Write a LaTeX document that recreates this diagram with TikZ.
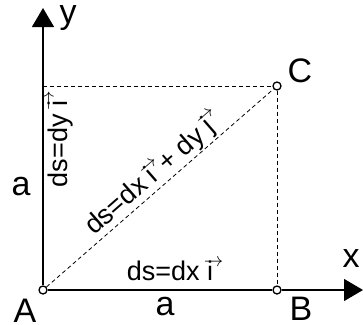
\documentclass[tikz,border=0pt]{standalone}
\usepackage{fontspec}
\setmainfont{Liberation Sans}
\usetikzlibrary{arrows.meta,positioning}
\newcommand{\uvec}[1]{\makebox[0pt][l]{\hspace{-0.12em}\raisebox{0.5em}{\resizebox{0.72em}{!}{$\rightarrow$}}}#1\hspace{0.38em}}

\begin{document}
\begin{tikzpicture}[
    x=1pt, y=-1pt,
    point/.style={circle, draw, fill=white, line width=1.3pt, inner sep=0pt, minimum size=8pt},
    axis/.style={line width=1.2pt, -{Triangle[length=19pt,width=22pt]}},
    guide/.style={line width=0.8pt, dash pattern=on 4pt off 3pt},
    letter/.style={font=\fontsize{34}{34}\selectfont, inner sep=0pt},
    formula/.style={font=\fontsize{27}{27}\selectfont, inner sep=0pt}
]
\useasboundingbox (0,0) rectangle (363,324);

% Points
\node[point] (A) at (43,290) {};
\node[point] (B) at (277,290) {};
\node[point] (C) at (277,86) {};
\coordinate (ytop) at (43,8);
\coordinate (xend) at (363,290);
\coordinate (D) at (A |- C);

% Axes
\draw[axis] (A) -- (ytop);
\draw[axis] (A) -- (B) -- (xend);

% Square sides and diagonal
\draw[guide] (D) -- (C);
\draw[guide] (C) -- (B);
\draw[guide] (A) -- (C) node[formula, pos=0.5, sloped, above=1pt] (diag) {ds=dx \uvec{i}+ dy \uvec{j}};

% Letters
\node[letter, anchor=base] (ylab) at (68,23) {y};
\node[letter, anchor=base] (xlab) at (351,267) {x};
\node[letter, anchor=base] (Alab) at (25,322) {A};
\node[letter, anchor=base] (Blab) at (301,320) {B};
\node[letter, anchor=base] (Clab) at (300,82) {C};
\node[letter, anchor=base] (abot) at (165,315) {a};
\node[letter, anchor=base] (aleft) at (21,195) {a};

% Path elements
\node[formula, anchor=base] (horiz) at (170,280) {ds=dx \uvec{i}};
\node[formula, rotate=90, anchor=base] (vert) at (67,144) {ds=dy \uvec{i}};

\end{tikzpicture}
\end{document}
